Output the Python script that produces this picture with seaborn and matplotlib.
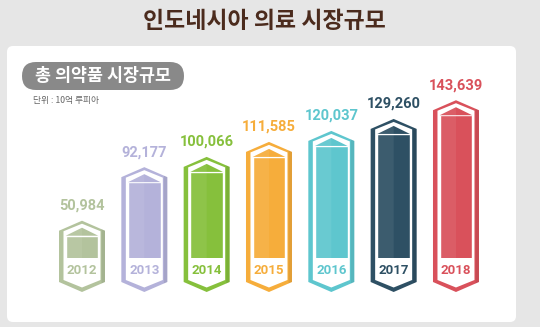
import matplotlib
matplotlib.use("Agg")
import matplotlib.pyplot as plt
import seaborn as sns
import pandas as pd
from matplotlib.patches import Polygon, FancyBboxPatch

# ---- data ----
years = ["2012", "2013", "2014", "2015", "2016", "2017", "2018"]
values = [50984, 92177, 100066, 111585, 120037, 129260, 143639]
colors = ["#b3c39d", "#b4b2da", "#86c03c", "#f6ad3b", "#5ec6ce", "#2e5064", "#d9515b"]
title = "인도네시아 의료 시장규모"
subtitle = "총 의약품 시장규모"
unit_note = "단위 : 10억 루피아"

sns.set_theme(style="white")
plt.rcParams['font.family'] = ['Noto Sans CJK KR', 'DejaVu Sans']

W_PX, H_PX = 540, 327
fig = plt.figure(figsize=(W_PX / 100, H_PX / 100), dpi=100)
fig.patch.set_facecolor("#e6e6e6")

# background / decoration layer in pixel coordinates
bg = fig.add_axes([0, 0, 1, 1])
bg.set_xlim(0, W_PX)
bg.set_ylim(H_PX, 0)
bg.axis("off")
bg.add_patch(FancyBboxPatch((7, 46), 509, 276, boxstyle="round,pad=0,rounding_size=6",
                            fc="white", ec="none"))
bg.add_patch(FancyBboxPatch((22, 62), 162, 28, boxstyle="round,pad=0,rounding_size=14",
                            fc="#898989", ec="none"))
bg.text(103, 76, subtitle, color="white", fontsize=12.5, fontweight="bold",
        ha="center", va="center")
bg.text(33, 101, unit_note, fontsize=6.3, color="#666666", ha="left", va="center")
bg.text(264, 21, title, fontsize=16.5, fontweight="heavy", color="#4b2b1d",
        ha="center", va="center")

# ---- bar axes ----
ax_left, ax_right, ax_top, ax_base = 40, 500, 50, 258
ax = fig.add_axes([ax_left / W_PX, (H_PX - ax_base) / H_PX,
                   (ax_right - ax_left) / W_PX, (ax_base - ax_top) / H_PX])
df = pd.DataFrame({"year": years, "value": values})
sns.barplot(data=df, x="year", y="value", hue="year", palette=colors, width=0.52,
            saturation=1, legend=False, ax=ax)
step_px = 62.33
xmin, xmax = -42 / step_px, (ax_right - 82) / step_px
ymin, ymax = 33850, 193800
ax.set_xlim(xmin, xmax)
ax.set_ylim(ymin, ymax)
ax.axis("off")

ux = (xmax - xmin) / (ax_right - ax_left)   # data units per pixel (x)
uy = (ymax - ymin) / (ax_base - ax_top)     # data units per pixel (y)

bars = [b for c in ax.containers for b in c if b.get_height() == b.get_height()]
for bar in bars:
    cx = bar.get_x() + bar.get_width() / 2
    top = bar.get_y() + bar.get_height()
    col = bar.get_facecolor()
    i = int(round(cx))
    B = ymin
    bar.set_zorder(3)

    def P(dxp, y):
        return (cx + dxp * ux, y)

    outer = [P(-23, top + 5 * uy), P(0, top + 15 * uy), P(23, top + 5 * uy),
             P(23, B - 24 * uy), P(0, B - 34 * uy), P(-23, B - 24 * uy)]
    ax.add_patch(Polygon(outer, closed=True, fc=col, ec="none", zorder=1, clip_on=False))
    # darker outer flange for a folded look
    ax.add_patch(Polygon([P(19.5, top + 6.6 * uy), P(23, top + 5 * uy), P(23, B - 24 * uy),
                          P(19.5, B - 25.5 * uy)], closed=True, fc="black", alpha=0.08,
                         ec="none", zorder=1.1, clip_on=False))
    inner = [P(-18.5, top + 4.5 * uy), P(0, top + 12 * uy), P(18.5, top + 4.5 * uy),
             P(18.5, B - 22 * uy), P(0, B - 29.5 * uy), P(-18.5, B - 22 * uy)]
    ax.add_patch(Polygon(inner, closed=True, fc="white", ec="none", zorder=2, clip_on=False))
    half = bar.get_width() / 2
    roof = [(cx - half, top), (cx, top + 8 * uy), (cx + half, top)]
    ax.add_patch(Polygon(roof, closed=True, fc=col, ec="none", zorder=3, clip_on=False))
    # light fold on the left half
    ax.add_patch(Polygon([(cx - half, B), (cx - half, top), (cx, top + 8 * uy), (cx, B)],
                         closed=True, fc="white", alpha=0.07, ec="none", zorder=3.5,
                         clip_on=False))
    ax.text(cx, B - 12 * uy, years[i], color=col, fontsize=9.5, fontweight="bold",
            family=["Roboto", "DejaVu Sans"], ha="center", va="center", zorder=4,
            clip_on=False)
    ax.text(cx, top + 30 * uy, f"{values[i]:,}", color=col, fontsize=10.5,
            fontweight="bold", family=["Roboto", "DejaVu Sans"], ha="center",
            va="center", zorder=4, clip_on=False)

fig.savefig("out.png", dpi=100, facecolor=fig.get_facecolor())
